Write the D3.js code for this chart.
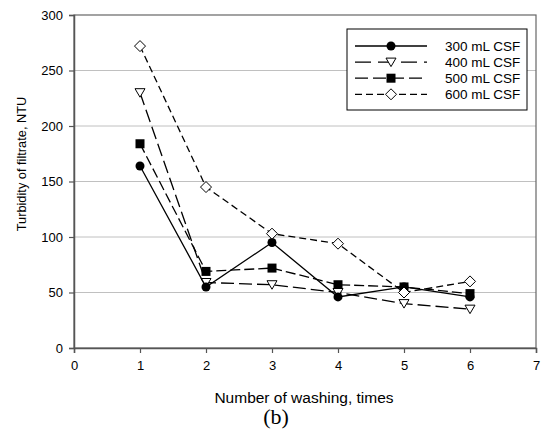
<!DOCTYPE html>
<html>
<head>
<meta charset="utf-8">
<script src="https://cdn.jsdelivr.net/npm/d3@7"></script>
<style>
  body { margin: 0; background: #fff; }
  svg { display: block; }
</style>
</head>
<body>
<svg id="chart" width="542" height="431"></svg>
<script>
// Washing number vs filtrate turbidity for four CSF volumes
const washes = [1, 2, 3, 4, 5, 6];
const csf300 = [164, 55, 95, 46, 55, 46];
const csf400 = [230, 59, 57, 50, 40, 35];
const csf500 = [184, 69, 72, 57, 55, 49];
const csf600 = [272, 145, 103, 94, 50, 60];
const seriesNames = ["300 mL CSF", "400 mL CSF", "500 mL CSF", "600 mL CSF"];
const xTicks = [0, 1, 2, 3, 4, 5, 6, 7];
const yTicks = [0, 50, 100, 150, 200, 250, 300];

const SANS = "'Liberation Sans', Arial, sans-serif";
const SERIF = "'Liberation Serif', 'Times New Roman', serif";

const series = [
  { name: seriesNames[0], values: csf300, dash: null, legendDash: null, marker: "circle" },
  { name: seriesNames[1], values: csf400, dash: "13,5", legendDash: "16,7", marker: "triangle" },
  { name: seriesNames[2], values: csf500, dash: "10,4", legendDash: "13,5", marker: "square" },
  { name: seriesNames[3], values: csf600, dash: "7,4", legendDash: "7,4", marker: "diamond" }
];
// painting order: 500, 400, 300, 600
const drawOrder = [2, 1, 0, 3];

const svg = d3.select("#chart");
const plotLeft = 74, plotRight = 536, plotTop = 15, plotBottom = 348;

const x = d3.scaleLinear().domain([0, 7]).range([plotLeft, plotRight]);
const y = d3.scaleLinear().domain([0, 300]).range([plotBottom, plotTop]);

// horizontal grid
svg.append("g")
  .selectAll("line")
  .data(yTicks.filter(d => d > 0 && d < 300))
  .join("line")
  .attr("x1", plotLeft).attr("x2", plotRight)
  .attr("y1", d => y(d)).attr("y2", d => y(d))
  .attr("stroke", "#c0c0c0").attr("stroke-width", 1);

// plot frame
svg.append("rect")
  .attr("x", plotLeft).attr("y", plotTop)
  .attr("width", plotRight - plotLeft).attr("height", plotBottom - plotTop)
  .attr("fill", "none").attr("stroke", "#666").attr("stroke-width", 1.2);

// axes
const xAxis = d3.axisBottom(x).tickValues(xTicks).tickSize(5).tickPadding(8).tickFormat(d3.format("d"));
const yAxis = d3.axisLeft(y).tickValues(yTicks).tickSize(5).tickPadding(6).tickFormat(d3.format("d"));

const gx = svg.append("g").attr("transform", `translate(0,${plotBottom})`).call(xAxis);
const gy = svg.append("g").attr("transform", `translate(${plotLeft},0)`).call(yAxis);
[gx, gy].forEach(g => {
  g.select(".domain").attr("stroke", "#555").attr("stroke-width", 1.5);
  g.selectAll(".tick line").attr("stroke", "#555").attr("stroke-width", 1.2);
  g.selectAll(".tick text").attr("fill", "#000")
    .style("font-family", SANS).style("font-size", "13px");
});

// axis titles
svg.append("text")
  .attr("x", 304).attr("y", 403)
  .attr("text-anchor", "middle")
  .style("font-family", SANS).style("font-size", "15.5px")
  .text("Number of washing, times");
svg.append("text")
  .attr("transform", "translate(26,164) rotate(-90)")
  .attr("text-anchor", "middle")
  .style("font-family", SANS).style("font-size", "12.8px")
  .text("Turbidity of filtrate, NTU");
svg.append("text")
  .attr("x", 276).attr("y", 424)
  .attr("text-anchor", "middle")
  .style("font-family", SERIF).style("font-size", "22px")
  .text("(b)");

// marker drawing
function drawMarker(g, type, cx, cy) {
  if (type === "circle") {
    g.append("circle").attr("cx", cx).attr("cy", cy).attr("r", 4.5).attr("fill", "#000");
  } else if (type === "square") {
    g.append("rect").attr("x", cx - 4.5).attr("y", cy - 4.5).attr("width", 9).attr("height", 9).attr("fill", "#000");
  } else if (type === "triangle") {
    g.append("path")
      .attr("d", `M${cx - 5},${cy - 4}L${cx + 5},${cy - 4}L${cx},${cy + 4.5}Z`)
      .attr("fill", "#fff").attr("stroke", "#000").attr("stroke-width", 1);
  } else if (type === "diamond") {
    g.append("path")
      .attr("d", `M${cx},${cy - 5.5}L${cx + 5.5},${cy}L${cx},${cy + 5.5}L${cx - 5.5},${cy}Z`)
      .attr("fill", "#fff").attr("stroke", "#000").attr("stroke-width", 1);
  }
}

const line = d3.line().x((d, i) => x(washes[i])).y(d => y(d));

// series lines and markers
drawOrder.forEach(k => {
  const s = series[k];
  const g = svg.append("g");
  g.append("path")
    .attr("d", line(s.values))
    .attr("fill", "none").attr("stroke", "#000").attr("stroke-width", 1.3)
    .attr("stroke-dasharray", s.dash);
  s.values.forEach((v, i) => drawMarker(g, s.marker, x(washes[i]), y(v)));
});

// legend
const lg = svg.append("g");
lg.append("rect")
  .attr("x", 347).attr("y", 29).attr("width", 180).attr("height", 81)
  .attr("fill", "#fff").attr("stroke", "#000").attr("stroke-width", 1);
series.forEach((s, i) => {
  const ly = 46 + i * 16.1;
  lg.append("line")
    .attr("x1", 355).attr("x2", 427).attr("y1", ly).attr("y2", ly)
    .attr("stroke", "#000").attr("stroke-width", 1.3)
    .attr("stroke-dasharray", s.legendDash);
  drawMarker(lg, s.marker, 391, ly);
  lg.append("text")
    .attr("x", 445).attr("y", ly + 4.7)
    .style("font-family", SANS).style("font-size", "13.5px")
    .text(s.name);
});
</script>
</body>
</html>
